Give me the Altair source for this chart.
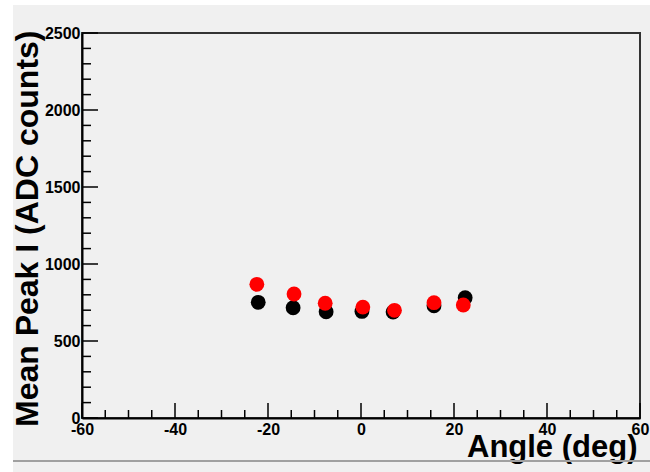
import altair as alt
import pandas as pd

# Mean peak amplitude versus incidence angle, two runs
angles_black = [-22.1, -14.6, -7.5, 0.2, 6.9, 15.7, 22.4]
peak_black = [751, 716, 690, 692, 688, 729, 781]
angles_red = [-22.4, -14.4, -7.7, 0.4, 7.2, 15.7, 22.0]
peak_red = [868, 805, 745, 720, 699, 749, 734]

x_labels = [-60, -40, -20, 0, 20, 40, 60]
y_labels = [0, 500, 1000, 1500, 2000, 2500]
x_minor = [v for v in range(-55, 60, 5) if v % 20 != 0]
y_minor = [v for v in range(100, 2500, 100) if v % 500 != 0]

W, H = 558, 385
FONT = "Liberation Sans"
BG = "#f0f0f0"
PLAIN = "datum.value < 0 ? '-' + abs(datum.value) : '' + datum.value"

black_df = pd.DataFrame({"angle": angles_black, "peak": peak_black})
red_df = pd.DataFrame({"angle": angles_red, "peak": peak_red})

x_scale = alt.Scale(domain=[-60, 60], nice=False, zero=False)
y_scale = alt.Scale(domain=[0, 2500], nice=False)

x_axis = alt.Axis(
    values=x_labels, grid=False, ticks=False, domain=True, domainColor="black",
    domainWidth=2, labelFont=FONT, labelFontWeight="bold", labelFontSize=16,
    labelColor="black", labelPadding=3, labelOverlap=False, labelFlush=False,
    labelExpr=PLAIN,
    title="Angle (deg)", titleFont=FONT, titleFontWeight="bold", titleFontSize=31,
    titleColor="black", titleAlign="right", titleBaseline="alphabetic",
    titleX=W - 3, titleY=38,
)
y_axis = alt.Axis(
    values=y_labels, grid=False, ticks=False, domain=True, domainColor="black",
    domainWidth=2, labelFont=FONT, labelFontWeight="bold", labelFontSize=16,
    labelColor="black", labelPadding=2, labelOverlap=False, labelFlush=False,
    labelBaseline="middle", labelExpr=PLAIN,
    title="Mean Peak I (ADC counts)", titleFont=FONT, titleFontWeight="bold",
    titleFontSize=32, titleColor="black", titleAngle=270, titleAlign="right",
    titleBaseline="alphabetic", titleX=-45, titleY=-3,
)

# canvas chrome: white strips at top/left and a grey rule near the bottom
chrome_df = pd.DataFrame({"k": [0]})
white_left = alt.Chart(chrome_df).mark_rect(color="white").encode(
    x=alt.value(-82), x2=alt.value(-69), y=alt.value(-33), y2=alt.value(472 - 33))
white_top = alt.Chart(chrome_df).mark_rect(color="white").encode(
    x=alt.value(-82), x2=alt.value(650 - 82), y=alt.value(-33), y2=alt.value(-28))
bottom_rule = alt.Chart(chrome_df).mark_rule(color="#a0a0a0", strokeWidth=2).encode(
    x=alt.value(-69), x2=alt.value(650 - 82), y=alt.value(461 - 33))

# inward ticks
xmaj = alt.Chart(pd.DataFrame({"v": x_labels})).mark_rule(color="black", strokeWidth=1.5).encode(
    x=alt.X("v:Q", scale=x_scale, axis=x_axis), y=alt.value(H), y2=alt.value(H - 15))
xmin = alt.Chart(pd.DataFrame({"v": x_minor})).mark_rule(color="black", strokeWidth=1.5).encode(
    x=alt.X("v:Q", scale=x_scale), y=alt.value(H), y2=alt.value(H - 8))
ymaj = alt.Chart(pd.DataFrame({"v": y_labels})).mark_rule(color="black", strokeWidth=1.5).encode(
    y=alt.Y("v:Q", scale=y_scale, axis=y_axis), x=alt.value(0), x2=alt.value(16))
ymin = alt.Chart(pd.DataFrame({"v": y_minor})).mark_rule(color="black", strokeWidth=1.5).encode(
    y=alt.Y("v:Q", scale=y_scale), x=alt.value(0), x2=alt.value(9))

pts_black = alt.Chart(black_df).mark_point(
    filled=True, shape="circle", size=220, color="black", opacity=1).encode(
    x=alt.X("angle:Q", scale=x_scale), y=alt.Y("peak:Q", scale=y_scale))
pts_red = alt.Chart(red_df).mark_point(
    filled=True, shape="circle", size=220, color="#ff0000", opacity=1).encode(
    x=alt.X("angle:Q", scale=x_scale), y=alt.Y("peak:Q", scale=y_scale))

chart = alt.layer(
    white_left, white_top, bottom_rule, xmaj, xmin, ymaj, ymin, pts_black, pts_red
).properties(
    width=W, height=H,
    autosize=alt.AutoSizeParams(type="none"),
    padding={"left": 82, "top": 33, "right": 10, "bottom": 54},
    background=BG,
).configure_view(
    stroke="#333333", strokeWidth=2, fill=BG,
)

chart.save("out.html", embed_options={"renderer": "svg", "actions": False})
